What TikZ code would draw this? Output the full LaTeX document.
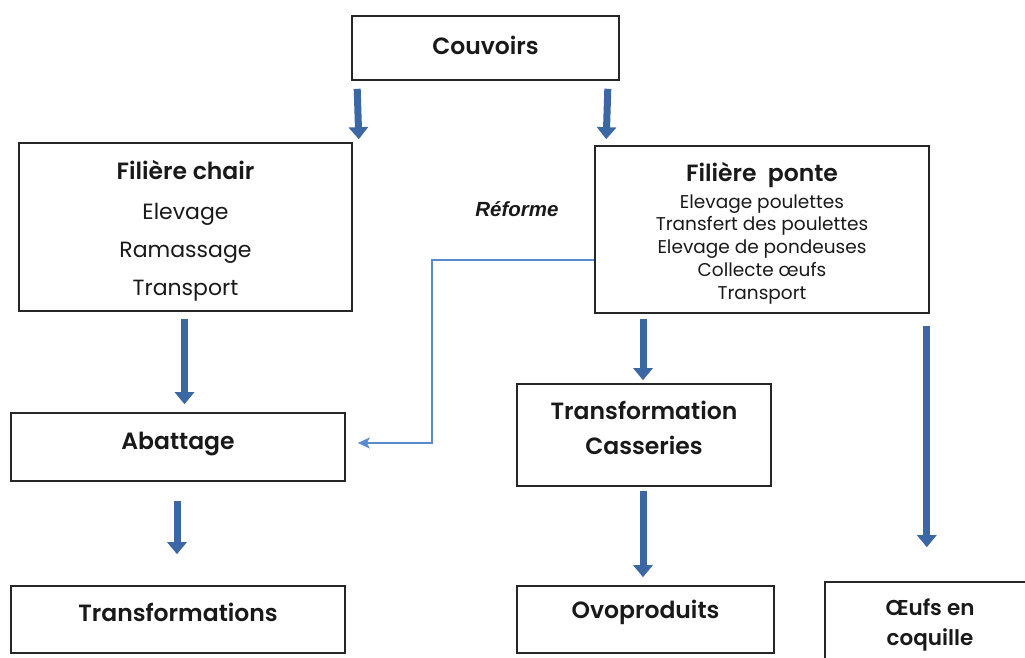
\documentclass[tikz,border=0pt]{standalone}
\usepackage{fontspec}
\setmainfont{Poppins}[BoldFont={Poppins SemiBold}]
\newfontfamily\reffont{Liberation Sans}
\usetikzlibrary{arrows.meta,calc}
\definecolor{bigblue}{HTML}{3C67A5}
\definecolor{thinblue}{HTML}{5A8ACE}
\definecolor{boxline}{HTML}{262626}
\newcommand{\txtline}[2]{\raisebox{#1}[0pt][0pt]{#2}}
\begin{document}
\begin{tikzpicture}[x=1pt,y=-1pt,
  box/.style={draw=boxline,line width=1.6pt,rectangle,align=center,inner sep=0pt,text=black!90},
  title/.style={font=\fontsize{23.5}{28}\selectfont\bfseries},
  bigarrow/.style={draw=bigblue,line width=7pt,-{Triangle[length=12pt,width=19pt]}},
  reform/.style={draw=thinblue,line width=1.8pt,-{Stealth[length=12pt,width=11pt,inset=3pt]}}
]
\useasboundingbox (0,0) rectangle (1025,658);
\clip (0,0) rectangle (1025,658);

\node[box,minimum width=267pt,minimum height=64pt,title] (couv) at (485.5,48) {\txtline{-7pt}{Couvoirs}};

\node[box,minimum width=333pt,minimum height=168pt,font=\fontsize{22}{25}\selectfont] (chair) at (185.5,227)
  {\txtline{-10pt}{\fontsize{23.5}{25}\selectfont\bfseries Filière chair}\\[15pt]
   \txtline{-10pt}{Elevage}\\[13pt]\txtline{-10pt}{Ramassage}\\[13pt]\txtline{-10pt}{Transport}};

\node[box,minimum width=334pt,minimum height=167pt,font=\fontsize{18.5}{22.75}\selectfont] (ponte) at (762,229.5)
  {\txtline{-10.5pt}{\fontsize{23.5}{23}\selectfont\bfseries Filière\ \ ponte}\\[4.25pt]
   \txtline{-10.5pt}{Elevage poulettes}\\\txtline{-10.5pt}{Transfert des poulettes}\\\txtline{-10.5pt}{Elevage de pondeuses}\\\txtline{-10.5pt}{Collecte œufs}\\\txtline{-10.5pt}{Transport}};

\node[box,minimum width=334pt,minimum height=68pt,title] (abat) at (178,447) {\txtline{-2pt}{Abattage}};
\node[box,minimum width=334pt,minimum height=67pt,title] (transf) at (178,619.5) {\txtline{-1.5pt}{Transformations}};
\node[box,minimum width=254pt,minimum height=102pt,font=\fontsize{23.5}{35}\selectfont\bfseries] (cass) at (644,435) {\txtline{-1.5pt}{Transformation}\\\txtline{-1.5pt}{Casseries}};
\node[box,minimum width=257pt,minimum height=67pt,title] (ovo) at (645.5,619.5) {\txtline{1.5pt}{Ovoproduits}};
\node[box,minimum width=210pt,minimum height=82pt,font=\fontsize{21.5}{30}\selectfont\bfseries] (oeufs) at (930,623) {\txtline{-7.5pt}{Œufs en}\\\txtline{-7.5pt}{coquille}};

\node[font=\reffont\fontsize{20.5}{24}\selectfont\bfseries\itshape,text=black!90] (reforme) at (517,209) {Réforme};

% thick arrows
\draw[bigarrow] ($(couv.south west)+(6,8)$) -- ($(chair.north east)+(6,-3)$);
\draw[bigarrow] ($(couv.south east)+(-12,8)$) -- ($(ponte.north west)+(12,-6)$);
\draw[bigarrow] ($(chair.south)+(-1,7)$) -- ($(chair.south |- abat.north)+(-1,-8)$);
\draw[bigarrow] ($(abat.south)+(-1,19)$) -- ($(abat.south |- transf.north)+(-1,-31)$);
\draw[bigarrow] ($(cass.north |- ponte.south)+(-1,5)$) -- ($(cass.north)+(-1,-3)$);
\draw[bigarrow] ($(cass.south)+(-1,4)$) -- ($(cass.south |- ovo.north)+(-1,-8)$);
\draw[bigarrow] ($(ponte.south east)+(-3,12)$) -- ($(ponte.south east |- oeufs.north)+(-3,-34)$);

% Réforme connector
\draw[reform] ($(ponte.north west)+(0,115)$) -- ++(-162,0) |- ($(abat.east)+(12,-4)$);
\end{tikzpicture}
\end{document}
